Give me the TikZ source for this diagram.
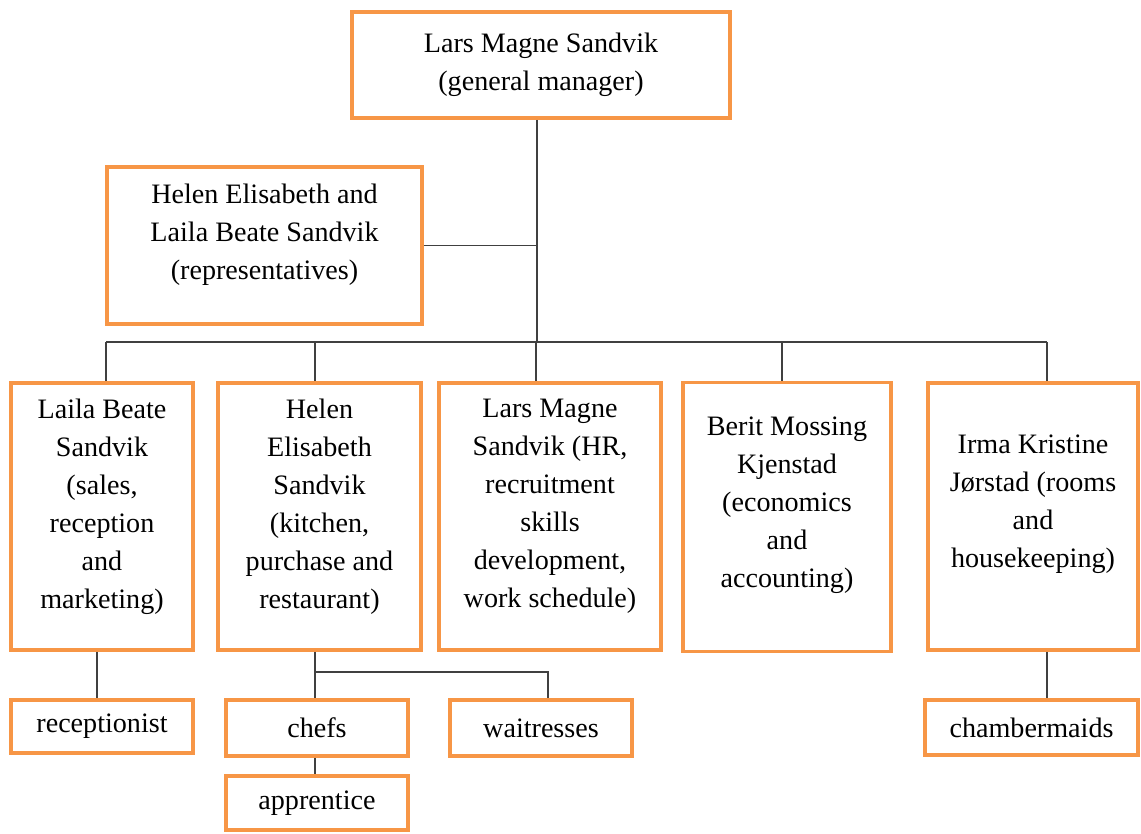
\documentclass[tikz,border=0pt]{standalone}
\usepackage{fontspec}
\setmainfont{Liberation Serif}
\usetikzlibrary{positioning}
\definecolor{boxorange}{RGB}{247,150,70}
\tikzset{
    unitbox/.style={draw=boxorange, line width=2.6pt, fill=white, align=center,
        inner sep=2pt, font=\fontsize{20}{27}\selectfont},
    liftup/.style={text depth=#1},
    link/.style={draw=black!75, line width=0.9pt}
}

\begin{document}
\begin{tikzpicture}[x=0.025cm, y=-0.025cm]
        \useasboundingbox (0,0) rectangle (1141,833);

        % Management
        \node[unitbox, minimum width=9.45cm, minimum height=2.65cm] (gm) at (541,65)
            {Lars Magne Sandvik\\(general manager)};
        \node[unitbox, liftup=0.7cm, minimum width=7.875cm, minimum height=3.925cm] (reps) at (264.5,245.5)
            {Helen Elisabeth and\\Laila Beate Sandvik\\(representatives)};

        % Department heads
        \node[unitbox, liftup=0.65cm, minimum width=4.55cm, minimum height=6.675cm] (lbs) at (102,516.5)
            {Laila Beate\\Sandvik\\(sales,\\reception\\and\\marketing)};
        \node[unitbox, liftup=0.65cm, minimum width=5.075cm, minimum height=6.675cm] (hes) at (319.5,516.5)
            {Helen\\Elisabeth\\Sandvik\\(kitchen,\\purchase and\\restaurant)};
        \node[unitbox, liftup=0.65cm, minimum width=5.55cm, minimum height=6.675cm] (lms) at (550,516.5)
            {Lars Magne\\Sandvik (HR,\\recruitment\\skills\\development,\\work schedule)};
        \node[unitbox, liftup=0.75cm, minimum width=5.2cm, minimum height=6.725cm] (bmk) at (787,517)
            {Berit Mossing\\Kjenstad\\(economics\\and\\accounting)};
        \node[unitbox, liftup=0.75cm, minimum width=5.25cm, minimum height=6.675cm] (ikj) at (1033,516.5)
            {Irma Kristine\\Jørstad (rooms\\and\\housekeeping)};

        % Staff
        \node[unitbox, minimum width=4.55cm, minimum height=1.325cm] (rec) at (102,726.5) {receptionist};
        \node[unitbox, minimum width=4.55cm, minimum height=1.4cm] (chefs) at (317,728) {chefs};
        \node[unitbox, minimum width=4.55cm, minimum height=1.4cm] (wait) at (541,728) {waitresses};
        \node[unitbox, minimum width=4.55cm, minimum height=1.35cm] (appr) at (317,803) {apprentice};
        \node[unitbox, minimum width=5.325cm, minimum height=1.375cm] (cham) at (1031.5,727.5) {chambermaids};

        % Connectors
        \coordinate (hub) at (537,342);
        \coordinate (kitchen) at (315,672);
        \coordinate (barleft) at (106,342);
        \coordinate (barright) at (1047,342);
        \draw[link] (barleft) -- (barright);
        \foreach \n/\x in {lbs/106, hes/315, lms/536, bmk/782, ikj/1047} {
            \draw[link] (\x,342) -- (\x,342 |- \n.north);
        }
        \draw[link] (hub |- gm.south) -- (hub);
        \draw[link] (reps.east) -- (reps.east -| hub);

        \draw[link] ([xshift=-0.125cm]lbs.south) -- ([xshift=-0.125cm]rec.north);
        \draw[link] (kitchen |- hes.south) -- (kitchen) -- (kitchen |- chefs.north);
        \draw[link] (kitchen) -| ([xshift=0.175cm]wait.north);
        \draw[link] (kitchen |- chefs.south) -- (kitchen |- appr.north);
        \draw[link] (barright |- ikj.south) -- (barright |- cham.north);

    \end{tikzpicture}
\end{document}
